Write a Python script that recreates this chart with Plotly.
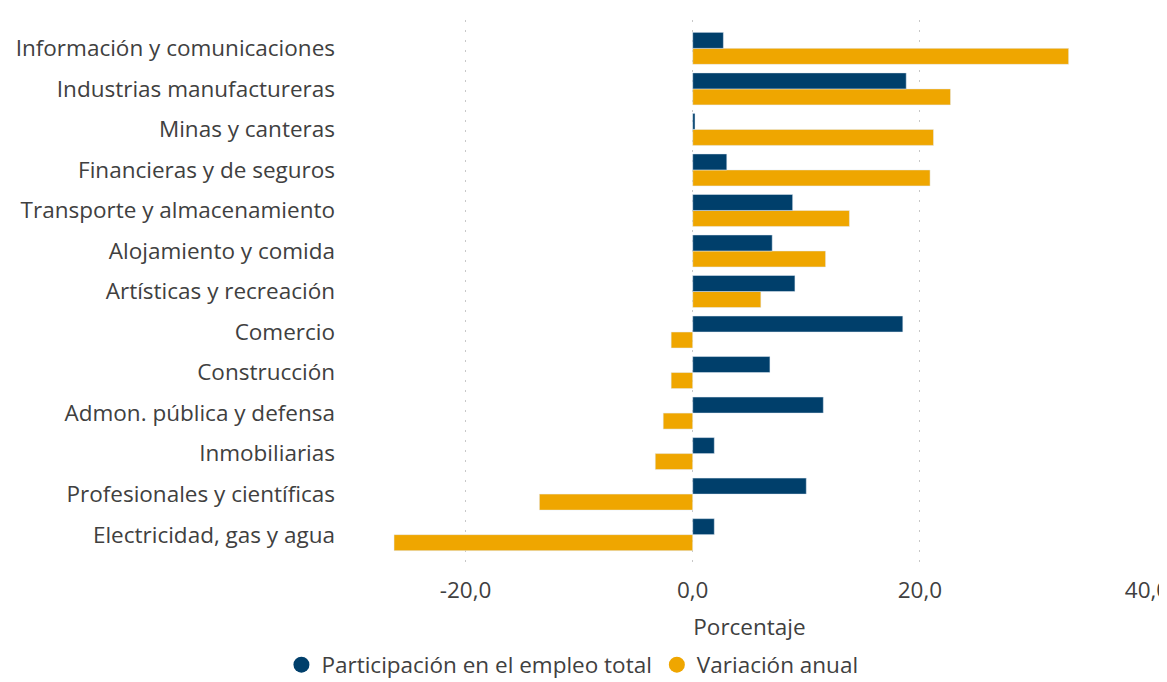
import plotly.graph_objects as go

SECTORS = [
    "Información y comunicaciones",
    "Industrias manufactureras",
    "Minas y canteras",
    "Financieras y de seguros",
    "Transporte y almacenamiento",
    "Alojamiento y comida",
    "Artísticas y recreación",
    "Comercio",
    "Construcción",
    "Admon. pública y defensa",
    "Inmobiliarias",
    "Profesionales y científicas",
    "Electricidad, gas y agua",
]
PARTICIPACION = [2.7, 18.8, 0.2, 3.0, 8.8, 7.0, 9.0, 18.5, 6.8, 11.5, 1.9, 10.0, 1.9]
VARIACION = [33.1, 22.7, 21.2, 20.9, 13.8, 11.7, 6.0, -1.9, -1.9, -2.6, -3.3, -13.5, -26.3]
X_TICKS = [-20, 0, 20, 40]

BLUE = "#003f6b"
ORANGE = "#efa600"
TEXT = "#404040"
FONT = "Open Sans, sans-serif"
SIZE = 22.5

# the page body keeps its default 8px margin, so the figure is a little smaller than the window
fig = go.Figure()

# orange first so that it sits below the blue bar within each group
fig.add_trace(go.Bar(y=SECTORS, x=VARIACION, orientation="h", name="Variación anual",
                     marker={"color": ORANGE}, showlegend=False))
fig.add_trace(go.Bar(y=SECTORS, x=PARTICIPACION, orientation="h", name="Participación en el empleo total",
                     marker={"color": BLUE}, showlegend=False))

# legend entries with round markers
for name, color in (("Participación en el empleo total", BLUE), ("Variación anual", ORANGE)):
    fig.add_trace(go.Scatter(x=[None], y=[None], mode="markers", name=name,
                             marker={"color": color, "size": 20, "symbol": "circle"}))

fig.update_layout(
    width=1159,
    height=674,
    margin={"l": 344, "r": 20, "t": 12, "b": 119, "autoexpand": False},
    paper_bgcolor="#ffffff",
    plot_bgcolor="#ffffff",
    barmode="group",
    bargap=0.21,
    bargroupgap=0,
    font={"family": FONT, "size": SIZE, "color": TEXT},
    legend={
        "orientation": "h",
        "x": 0.487,
        "xanchor": "center",
        "xref": "container",
        "y": -0.188,
        "yanchor": "middle",
        "yref": "paper",
        "font": {"size": SIZE, "color": TEXT},
        "itemwidth": 30,
        "tracegroupgap": 0,
    },
)
fig.update_xaxes(
    range=[-30, 40],
    tickvals=X_TICKS,
    ticktext=[f"{v:.1f}".replace(".", ",") for v in X_TICKS],
    showgrid=True,
    gridcolor="#c8c8c8",
    griddash="2px,8px",
    gridwidth=1,
    zeroline=False,
    showline=False,
    ticks="",
    automargin=False,
    ticklabeloverflow="allow",
    ticklabelstandoff=11,
    tickfont={"size": SIZE, "color": TEXT},
    title={"text": "Porcentaje", "font": {"size": SIZE, "color": TEXT}, "standoff": 15},
)
fig.update_yaxes(
    categoryorder="array",
    categoryarray=SECTORS[::-1],
    range=[-0.7, 12.7],
    showgrid=False,
    zeroline=False,
    showline=False,
    ticks="",
    automargin=False,
    ticklabelstandoff=16,
    tickfont={"size": SIZE, "color": TEXT},
)

fig.write_html("out.html")
